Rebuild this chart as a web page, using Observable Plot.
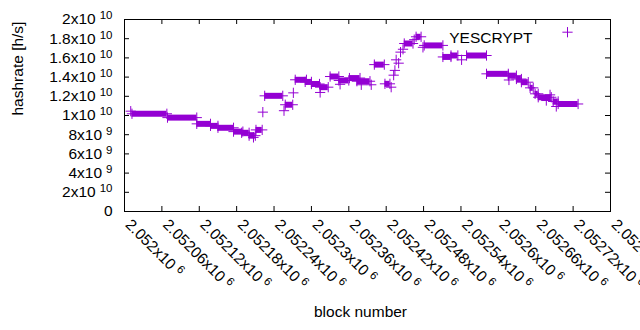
<!DOCTYPE html>
<html><head><meta charset="utf-8">
<script src="https://cdn.jsdelivr.net/npm/d3@7"></script>
<script src="https://cdn.jsdelivr.net/npm/@observablehq/plot@0.6"></script>
<style>
html,body{margin:0;padding:0;background:#fff;overflow:hidden;width:640px;height:330px}
</style></head><body><div id="chart"></div>
<script>
// Runs of consecutive blocks sharing the same hashrate (a single block when start == end)
const runStart = [2052010,2052012,2052069,2052116,2052138,2052150,2052175,2052188,2052200,2052207,2052211,2052222,2052225,2052256,2052258,2052271,2052274,2052290,2052300,2052314,2052314,2052330,2052344,2052346,2052361,2052373,2052380,2052396,2052401,2052418,2052428,2052432,2052434,2052436,2052440,2052443,2052447,2052449,2052465,2052468,2052479,2052481,2052511,2052524,2052541,2052549,2052581,2052616,2052617,2052629,2052637,2052651,2052659,2052664,2052677,2052683,2052688,2052693,2052696];
const runEnd   = [2052010,2052068,2052116,2052138,2052150,2052175,2052190,2052200,2052210,2052207,2052221,2052222,2052254,2052256,2052270,2052271,2052292,2052300,2052313,2052314,2052327,2052344,2052360,2052346,2052378,2052394,2052380,2052396,2052417,2052426,2052428,2052432,2052434,2052436,2052440,2052443,2052447,2052463,2052465,2052476,2052479,2052511,2052524,2052535,2052541,2052581,2052616,2052629,2052617,2052637,2052648,2052656,2052664,2052685,2052677,2052683,2052696,2052693,2052728];
const runHash  = [10.45e9,10.18e9,9.78e9,9.13e9,8.92e9,8.72e9,8.32e9,8.2e9,7.9e9,7.72e9,8.5e9,10.35e9,12.05e9,10.5e9,11.12e9,12.36e9,13.72e9,13.5e9,13.28e9,12.4e9,12.95e9,14.06e9,13.65e9,13.25e9,13.9e9,13.57e9,13.2e9,13.2e9,15.3e9,13.3e9,12.95e9,14.2e9,14.7e9,15.8e9,15.45e9,16.6e9,16.9e9,17.5e9,17.9e9,18.2e9,17.1e9,17.3e9,16.1e9,16.25e9,15.8e9,16.25e9,14.34e9,14.15e9,13.7e9,13.8e9,13.47e9,12.88e9,12.26e9,11.9e9,11.56e9,12.15e9,11.46e9,10.94e9,11.2e9];

const xTickValues = [2052000,2052060,2052120,2052180,2052240,2052300,2052360,2052420,2052480,2052540,2052600,2052660,2052720,2052780];
const xTickBase = ["2.052x10","2.05206x10","2.05212x10","2.05218x10","2.05224x10","2.0523x10","2.05236x10","2.05242x10","2.05248x10","2.05254x10","2.0526x10","2.05266x10","2.05272x10","2.05278x10"];
const xTickExp = ["6","6","6","6","6","6","6","6","6","6","6","6","6","6"];
const yTickValues = [0,2e9,4e9,6e9,8e9,1e10,1.2e10,1.4e10,1.6e10,1.8e10,2e10];
const yTickBase = ["0","2x10","4x10","6x10","8x10","1x10","1.2x10","1.4x10","1.6x10","1.8x10","2x10"];
const yTickExp = ["","9","9","9","9","10","10","10","10","10","10"];

const seriesName = "YESCRYPT";
const xLabel = "block number";
const yLabel = "hashrate [h/s]";
const color = "#9400d3";

const runs = runStart.map((s, i) => ({start: s, end: runEnd[i], hash: runHash[i]}));
const bands = runs.filter(r => r.end > r.start);
const points = runs.flatMap(r => r.start === r.end
  ? [{block: r.start, hash: r.hash}]
  : [{block: r.start, hash: r.hash}, {block: r.end, hash: r.hash}]);

const FS = 15.5;
const CR = 3.4;
const svg = Plot.plot({
  width: 640,
  height: 330,
  marginLeft: 124,
  marginRight: 30,
  marginTop: 19,
  marginBottom: 119,
  style: {fontFamily: "'Liberation Sans', Arial, sans-serif", fontSize: FS + "px", background: "#fff", color: "#000"},
  x: {domain: [2052000, 2052780], axis: null},
  y: {domain: [0, 2e10], axis: null},
  marks: [
    Plot.ruleY(bands, {x1: "start", x2: "end", y: "hash", stroke: color, strokeWidth: 6}),
    Plot.dot(points, {x: "block", y: "hash", symbol: "plus", r: CR, stroke: color, strokeWidth: 1}),
    Plot.frame({stroke: "#000", strokeWidth: 1}),
    Plot.tickX(xTickValues, {x: d => d, insetTop: 187, stroke: "#000"}),
    Plot.tickX(xTickValues, {x: d => d, insetBottom: 187, stroke: "#000"}),
    Plot.tickY(yTickValues, {y: d => d, insetRight: 481, stroke: "#000"}),
    Plot.tickY(yTickValues, {y: d => d, insetLeft: 481, stroke: "#000"}),
    Plot.text(yTickValues, {y: d => d, text: (d, i) => yTickBase[i], frameAnchor: "left", textAnchor: "end", dx: -12, fontSize: FS}),
    Plot.text(xTickValues, {x: d => d, text: (d, i) => xTickBase[i], frameAnchor: "bottom", textAnchor: "start", rotate: 45, dx: 0, dy: 14, fontSize: FS}),
    Plot.text([yLabel], {frameAnchor: "left", rotate: -90, dx: -106.5, fontSize: FS}),
    Plot.text([xLabel], {frameAnchor: "bottom", dx: -7, dy: 105, fontSize: FS}),
    Plot.text([seriesName], {frameAnchor: "top-right", textAnchor: "end", dx: -78, dy: 12, fontSize: FS}),
    Plot.dot([seriesName], {frameAnchor: "top-right", dx: -43, dy: 12.7, symbol: "plus", r: CR, stroke: color, strokeWidth: 1})
  ]
});

// superscript exponents for the "x10" tick labels
const expByBase = new Map();
xTickBase.forEach((b, i) => expByBase.set(b, xTickExp[i]));
yTickBase.forEach((b, i) => expByBase.set(b, yTickExp[i]));
const ns = "http://www.w3.org/2000/svg";
svg.querySelectorAll("text").forEach(el => {
  if (el.children.length) return;
  const base = el.textContent;
  const exp = expByBase.get(base);
  if (!exp) return;
  el.textContent = "";
  const t1 = document.createElementNS(ns, "tspan");
  t1.textContent = base;
  el.appendChild(t1);
  const t2 = document.createElementNS(ns, "tspan");
  t2.setAttribute("dx", "4");
  t2.setAttribute("dy", "-5");
  t2.setAttribute("font-size", "11.5");
  t2.textContent = exp;
  el.appendChild(t2);
});

document.getElementById("chart").appendChild(svg);
</script>
</body></html>
